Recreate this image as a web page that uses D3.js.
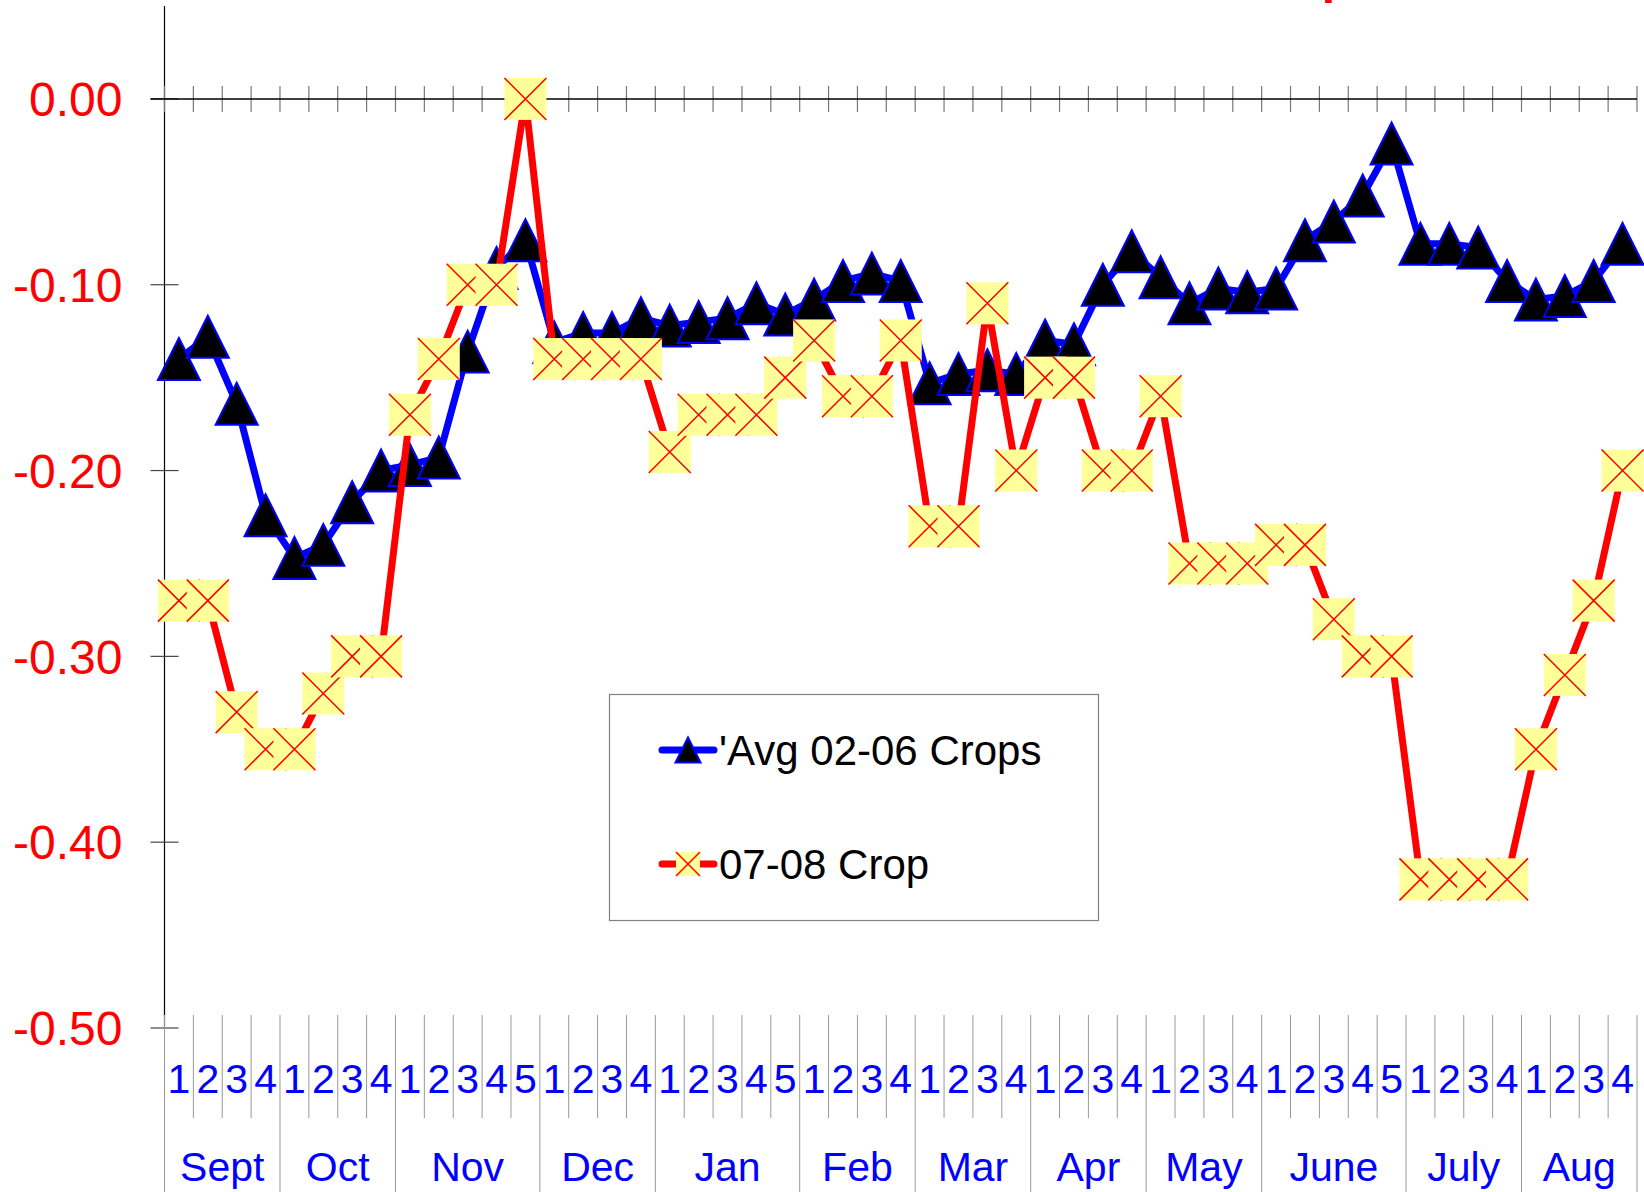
<!DOCTYPE html>
<html>
<head>
<meta charset="utf-8">
<script src="https://cdn.jsdelivr.net/npm/d3@7"></script>
<style>
  body { margin: 0; background: #fff; }
  svg { display: block; font-family: 'Liberation Sans', Arial, sans-serif; }
</style>
</head>
<body>
<svg id="chart" width="1644" height="1192"></svg>
<script>
// ########## DATA
const months = ['Sept', 'Oct', 'Nov', 'Dec', 'Jan', 'Feb', 'Mar', 'Apr', 'May', 'June', 'July', 'Aug'];
const weeksPerMonth = [4, 4, 5, 4, 5, 4, 4, 4, 4, 5, 4, 4];
const yTicks = [0, -0.1, -0.2, -0.3, -0.4, -0.5];

// 'Avg 02-06 Crops
const avgCrops = [
  -0.140, -0.128, -0.164, -0.224,
  -0.247, -0.240, -0.217, -0.200,
  -0.197, -0.193, -0.136, -0.091, -0.076,
  -0.131, -0.126, -0.126, -0.118,
  -0.122, -0.120, -0.118, -0.110, -0.116,
  -0.108, -0.098, -0.094, -0.098,
  -0.153, -0.148, -0.146, -0.148,
  -0.130, -0.132, -0.100, -0.082,
  -0.096, -0.110, -0.102, -0.104,
  -0.102, -0.076, -0.066, -0.052, -0.024,
  -0.078, -0.078, -0.080, -0.098,
  -0.108, -0.106, -0.098, -0.078
];

// 07-08 Crop
const crop0708 = [
  -0.27, -0.27, -0.33, -0.35,
  -0.35, -0.32, -0.30, -0.30,
  -0.17, -0.14, -0.10, -0.10, 0.00,
  -0.14, -0.14, -0.14, -0.14,
  -0.19, -0.17, -0.17, -0.17, -0.15,
  -0.13, -0.16, -0.16, -0.13,
  -0.23, -0.23, -0.11, -0.20,
  -0.15, -0.15, -0.20, -0.20,
  -0.16, -0.25, -0.25, -0.25,
  -0.24, -0.24, -0.28, -0.30, -0.30,
  -0.42, -0.42, -0.42, -0.42,
  -0.35, -0.31, -0.27, -0.20
];

// build the week list (month + week number) from the month sizes
const weeks = [];
months.forEach((m, mi) => {
  for (let w = 1; w <= weeksPerMonth[mi]; w++) weeks.push({ month: m, week: w, idx: weeks.length });
});

// ########## SCALES
const svg = d3.select('#chart');
const plotLeft = 164.5, plotRight = 1637, plotTop = 6, plotBottom = 1028;

const x = d3.scaleBand().domain(weeks.map(d => d.idx)).range([plotLeft, plotRight]).paddingInner(0).paddingOuter(0);
const y = d3.scaleLinear().domain([-0.5, 0.05]).range([plotBottom, plotTop]);
const bw = x.bandwidth();
const cx = i => x(i) + bw / 2;

// red title, only its bottom peeks into the picture (as in the source)
svg.append('text')
  .attr('x', 1351).attr('y', -7)
  .attr('text-anchor', 'end')
  .style('font-size', '48px').style('font-weight', 'bold')
  .attr('fill', '#ff0000')
  .text('Basis 07-08 Crop');

// ########## Y AXIS
svg.append('line')
  .attr('x1', plotLeft).attr('x2', plotLeft)
  .attr('y1', plotTop).attr('y2', plotBottom)
  .attr('stroke', '#000').attr('stroke-width', 1.2);

// plain hyphen for the minus, like the original
const yAxis = d3.axisLeft(y).tickValues(yTicks).tickFormat(d => d.toFixed(2)).tickSize(0);
const gy = svg.append('g').attr('transform', `translate(${plotLeft},0)`).call(yAxis);
gy.select('.domain').remove();
gy.selectAll('text')
  .attr('x', -42)
  .attr('dy', '0.35em')
  .attr('fill', '#ff0000')
  .style('font-size', '48px')
  .style('font-family', "'Liberation Sans', Arial, sans-serif");

// cross ticks on the value axis
svg.append('g').selectAll('line')
  .data(yTicks)
  .enter()
  .append('line')
  .attr('x1', plotLeft - 14).attr('x2', plotLeft + 14)
  .attr('y1', d => y(d)).attr('y2', d => y(d))
  .attr('stroke', '#444').attr('stroke-width', 1.2);

// ########## ZERO LINE WITH WEEK TICKS
const boundaries = d3.range(weeks.length + 1).map(k => plotLeft + k * bw);

svg.append('g').selectAll('line')
  .data(boundaries)
  .enter()
  .append('line')
  .attr('x1', d => d).attr('x2', d => d)
  .attr('y1', y(0) - 13).attr('y2', y(0) + 13)
  .attr('stroke', '#777').attr('stroke-width', 1.2);

svg.append('line')
  .attr('x1', plotLeft - 14).attr('x2', plotRight)
  .attr('y1', y(0)).attr('y2', y(0))
  .attr('stroke', '#000').attr('stroke-width', 1.5);

// ########## CATEGORY LABELS (weeks + months)
const monthStarts = [0];
weeksPerMonth.forEach(n => monthStarts.push(monthStarts[monthStarts.length - 1] + n));

svg.append('g').selectAll('line')
  .data(boundaries)
  .enter()
  .append('line')
  .attr('x1', d => d).attr('x2', d => d)
  .attr('y1', 1015)
  .attr('y2', (d, k) => monthStarts.includes(k) ? 1192 : 1118)
  .attr('stroke', '#999').attr('stroke-width', 1);

svg.append('g').selectAll('text')
  .data(weeks)
  .enter()
  .append('text')
  .attr('x', d => cx(d.idx))
  .attr('y', 1093)
  .attr('text-anchor', 'middle')
  .attr('fill', '#0000ff')
  .style('font-size', '41px')
  .text(d => d.week);

svg.append('g').selectAll('text')
  .data(months)
  .enter()
  .append('text')
  .attr('x', (d, i) => (x(monthStarts[i]) + x(monthStarts[i + 1] - 1) + bw) / 2)
  .attr('y', 1181)
  .attr('text-anchor', 'middle')
  .attr('fill', '#0000ff')
  .style('font-size', '41px')
  .text(d => d);

// ########## SERIES
const line = d3.line().x((d, i) => cx(i)).y(d => y(d));

function triangle(sel, size) {
  sel.attr('d', `M0,${-size / 2}L${size / 2},${size / 2}L${-size / 2},${size / 2}Z`)
    .attr('fill', '#000')
    .attr('stroke', '#0000ff')
    .attr('stroke-width', 2);
}

function xBox(g, size) {
  g.append('rect')
    .attr('x', -size / 2).attr('y', -size / 2)
    .attr('width', size).attr('height', size)
    .attr('fill', '#ffff99');
  g.append('path')
    .attr('d', `M${-size / 2},${-size / 2}L${size / 2},${size / 2}M${size / 2},${-size / 2}L${-size / 2},${size / 2}`)
    .attr('stroke', '#ff0000')
    .attr('stroke-width', 1.5);
}

// blue average line and triangles
svg.append('path')
  .datum(avgCrops)
  .attr('d', line)
  .attr('fill', 'none')
  .attr('stroke', '#0000ff')
  .attr('stroke-width', 7)
  .attr('stroke-linejoin', 'round');

svg.append('g').selectAll('path')
  .data(avgCrops)
  .enter()
  .append('path')
  .attr('transform', (d, i) => `translate(${cx(i)},${y(d)})`)
  .call(triangle, 42);

// red 07-08 line and boxed crosses
svg.append('path')
  .datum(crop0708)
  .attr('d', line)
  .attr('fill', 'none')
  .attr('stroke', '#ff0000')
  .attr('stroke-width', 7)
  .attr('stroke-linejoin', 'round');

svg.append('g').selectAll('g')
  .data(crop0708)
  .enter()
  .append('g')
  .attr('transform', (d, i) => `translate(${cx(i)},${y(d)})`)
  .each(function () { xBox(d3.select(this), 42); });

// ########## LEGEND
const legend = svg.append('g');
legend.append('rect')
  .attr('x', 609.5).attr('y', 694.5)
  .attr('width', 489).attr('height', 226)
  .attr('fill', '#fff')
  .attr('stroke', '#808080').attr('stroke-width', 1.2);

const legendItems = [
  { label: "'Avg 02-06 Crops", color: '#0000ff', y: 750 },
  { label: '07-08 Crop', color: '#ff0000', y: 864 }
];

legendItems.forEach((item, i) => {
  legend.append('line')
    .attr('x1', 662).attr('x2', 714)
    .attr('y1', item.y).attr('y2', item.y)
    .attr('stroke', item.color).attr('stroke-width', 7)
    .attr('stroke-linecap', 'round');
  const m = legend.append('g').attr('transform', `translate(688,${item.y})`);
  if (i === 0) m.append('path').call(triangle, 25);
  else xBox(m, 24);
  legend.append('text')
    .attr('x', 719).attr('y', item.y + 15)
    .attr('fill', '#000')
    .style('font-size', '42px')
    .text(item.label);
});
</script>
</body>
</html>
